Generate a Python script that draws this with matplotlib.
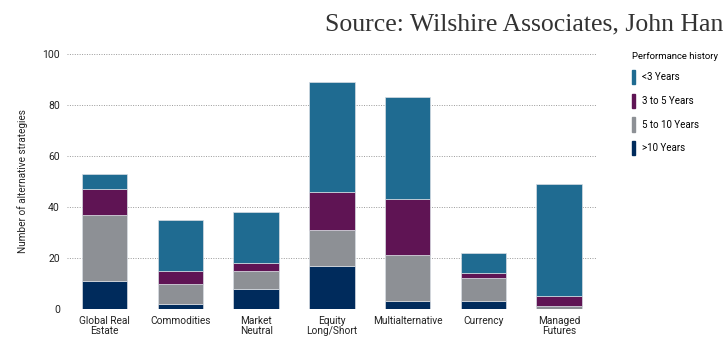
import numpy as np
import matplotlib.pyplot as plt
from matplotlib.patches import Patch

# categories and stacked series (number of strategies)
categories = ['Global Real\nEstate', 'Commodities', 'Market\nNeutral', 'Equity\nLong/Short',
              'Multialternative', 'Currency', 'Managed\nFutures']
over_10 = [11, 2, 8, 17, 3, 3, 0]
y5_10 = [26, 8, 7, 14, 18, 9, 1]
y3_5 = [10, 5, 3, 15, 22, 2, 4]
under_3 = [6, 20, 20, 43, 40, 8, 44]

series = [('>10 Years', over_10, '#002b5c'),
          ('5 to 10 Years', y5_10, '#8d9095'),
          ('3 to 5 Years', y3_5, '#5f1454'),
          ('<3 Years', under_3, '#1f6b91')]

plt.rcParams['font.family'] = ['Roboto', 'DejaVu Sans']

fig = plt.figure(figsize=(7.23, 3.41), dpi=100)
ax = fig.add_axes([66.7 / 723, 1 - 309 / 341, (597 - 66.7) / 723, (309 - 54) / 341])

x = np.arange(len(categories))
bottom = np.zeros(len(categories))
handles = {}
for name, vals, col in series:
    vals = np.array(vals, dtype=float)
    ax.bar(x, vals, 0.6, bottom=bottom, color=col, edgecolor='#d8dde3', linewidth=0.5, zorder=3)
    handles[name] = col
    bottom += vals

ax.set_xlim(-0.5, 6.5)
ax.set_ylim(0, 100)
ax.set_yticks([0, 20, 40, 60, 80, 100])
ax.yaxis.grid(True, linestyle=(0, (1, 1.5)), color='#9a9a9a', linewidth=0.7, zorder=0)
for s in ax.spines.values():
    s.set_visible(False)
ax.tick_params(length=0, labelsize=7.5, colors='#222222', pad=5)
ax.set_xticks(x)
ax.set_xticklabels(categories, fontsize=7.3, linespacing=1.0)
ax.set_ylabel('Number of alternative strategies', fontsize=7.2, color='#222222', labelpad=10)

fig.text(1.0, 1 - 30 / 341, 'Source: Wilshire Associates, John Han', ha='right', va='baseline',
         fontsize=18.5, family=['Liberation Serif', 'DejaVu Serif'], color='#333333')

leg_order = ['<3 Years', '3 to 5 Years', '5 to 10 Years', '>10 Years']
leg = fig.legend([Patch(color=handles[n]) for n in leg_order], leg_order,
                 loc='upper left', bbox_to_anchor=(626 / 723, 1 - 46 / 341),
                 frameon=False, title='Performance history', fontsize=7, title_fontsize=6.8,
                 handlelength=0.35, handleheight=1.9, handletextpad=0.7, labelspacing=0.95,
                 borderaxespad=0.2)
leg._legend_box.align = 'left'

fig.savefig('out.png', dpi=100)
